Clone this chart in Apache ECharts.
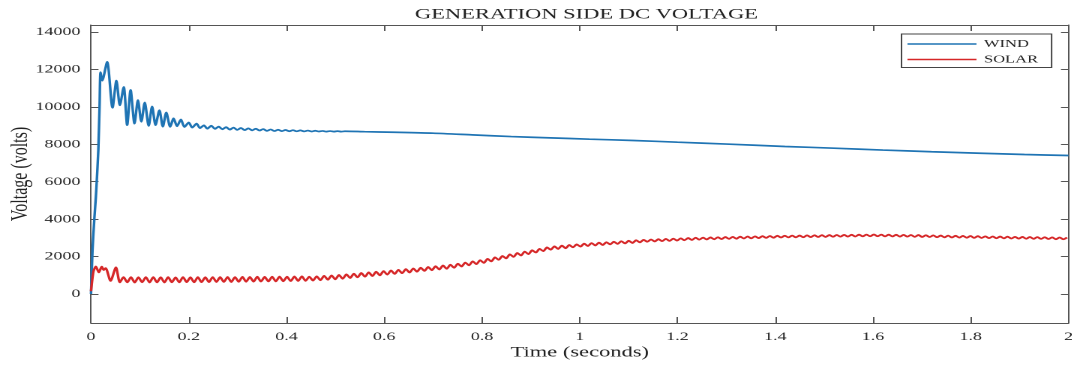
<!DOCTYPE html>
<html>
<head>
<meta charset="utf-8">
<title>Generation side DC voltage</title>
<script src="https://cdn.jsdelivr.net/npm/echarts@6/dist/echarts.min.js"></script>
<style>
  html, body { margin: 0; padding: 0; background: #fff; overflow: hidden; }
  /* the source figure is a MATLAB plot stretched 1.5x horizontally */
  #chart { width: 714.67px; height: 365px; transform: scaleX(1.5); transform-origin: 0 0; }
</style>
</head>
<body>
<div id="chart"></div>
<script>
// y ticks / labels
const yTicks = [0, 2000, 4000, 6000, 8000, 10000, 12000, 14000];

// wind: start-up transient
const windStartT = [0, 0.003, 0.007, 0.010, 0.0115, 0.015, 0.0175, 0.0195, 0.023, 0.033,
  0.044, 0.052, 0.059, 0.067, 0.074, 0.081, 0.089, 0.096, 0.103, 0.110,
  0.118, 0.125, 0.132, 0.140, 0.147, 0.154, 0.162, 0.169, 0.176, 0.184,
  0.191, 0.200, 0.207, 0.216, 0.223, 0.231, 0.238, 0.246];
const windStartV = [0, 2300, 4100, 5200, 5900, 7700, 10000, 11850, 11400, 12400,
  9950, 11400, 10080, 11060, 9020, 10900, 9100, 10360, 9200, 10230,
  8980, 10020, 9020, 9820, 8940, 9700, 8930, 9380, 8960, 9320,
  8920, 9160, 8890, 9100, 8860, 9010, 8830, 8990];

// wind: small ripple, one value per half period
const rippleStep = 0.0076;
const windRippleStart = 0.2536;
const windRipple = [8820, 8940, 8800, 8915, 8780, 8890, 8765, 8870, 8750, 8850,
  8740, 8830, 8730, 8810, 8715, 8790, 8705, 8775, 8700, 8760,
  8695, 8750, 8690, 8740, 8685, 8730, 8680, 8720, 8680, 8710,
  8675, 8705, 8675, 8700, 8675, 8695];

// wind: slow decline
const windTailT = [0.56, 0.62, 0.70, 0.78, 0.86, 0.94, 1.02, 1.11, 1.20, 1.30,
  1.42, 1.52, 1.62, 1.72, 1.82, 1.91, 2.00];
const windTailV = [8670, 8640, 8590, 8500, 8410, 8340, 8270, 8200, 8110, 8010,
  7880, 7790, 7690, 7600, 7520, 7450, 7400];

// solar: start-up transient
const solarStartT = [0, 0.005, 0.010, 0.016, 0.022, 0.026, 0.030, 0.040, 0.051, 0.059];
const solarStartV = [150, 1200, 1470, 1150, 1460, 1280, 1380, 700, 1420, 620];

// solar: ripple riding on the slow rise, one value per half period
const solarRippleStart = 0.0666;
const solarRipple = [
  900, 620, 905, 610, 895, 625, 905, 615, 900, 620,
  895, 615, 900, 625, 890, 620, 905, 630, 895, 625,
  900, 630, 895, 635, 905, 640, 900, 645, 910, 640,
  905, 650, 915, 655, 910, 660, 920, 665, 915, 670,
  925, 675, 930, 680, 920, 690, 935, 695, 940, 700,
  925, 715, 945, 735, 970, 760, 990, 780, 1015, 815,
  1050, 855, 1080, 890, 1120, 925, 1155, 960, 1190, 995,
  1220, 1035, 1255, 1070, 1290, 1110, 1330, 1145, 1365, 1190,
  1400, 1230, 1440, 1270, 1480, 1310, 1520, 1345, 1560, 1400,
  1615, 1470, 1680, 1530, 1745, 1595, 1805, 1660, 1880, 1740,
  1955, 1825, 2030, 1900, 2115, 1980, 2190, 2055, 2265, 2130,
  2335, 2215, 2410, 2290, 2490, 2365, 2545, 2405, 2585, 2445,
  2615, 2495, 2650, 2530, 2690, 2565, 2720, 2590, 2745, 2615,
  2765, 2650, 2790, 2675, 2820, 2700, 2845, 2725, 2870, 2755,
  2895, 2790, 2915, 2805, 2930, 2820, 2945, 2835, 2960, 2850,
  2975, 2870, 2990, 2885, 3005, 2900, 3015, 2910, 3025, 2920,
  3035, 2930, 3045, 2940, 3055, 2950, 3065, 2960, 3075, 2970,
  3080, 2985, 3090, 2995, 3100, 3005, 3110, 3015, 3115, 3020,
  3120, 3025, 3125, 3030, 3135, 3035, 3140, 3040, 3145, 3045,
  3150, 3055, 3155, 3060, 3160, 3065, 3165, 3070, 3170, 3075,
  3175, 3080, 3180, 3080, 3175, 3075, 3170, 3070, 3165, 3065,
  3160, 3060, 3155, 3050, 3150, 3045, 3140, 3040, 3135, 3030,
  3125, 3025, 3120, 3015, 3110, 3010, 3105, 3000, 3100, 2995,
  3090, 2990, 3080, 2980, 3075, 2975, 3070, 2970, 3065, 2960,
  3055, 2955, 3050, 2950, 3045, 2945, 3040, 2940, 3035, 2935,
  3025, 2925, 3020, 2920, 3015
];

const windColor = '#1f74b4';
const solarColor = '#d62728';
const serif = 'Liberation Serif';
const axisColor = '#555';

function pairs(ts, vs) {
  return ts.map((t, i) => [t, vs[i]]);
}
function gridPairs(start, vs) {
  return vs.map((v, i) => [+(start + i * rippleStep).toFixed(4), v]);
}

const windData = pairs(windStartT, windStartV)
  .concat(gridPairs(windRippleStart, windRipple))
  .concat(pairs(windTailT, windTailV));
const solarData = pairs(solarStartT, solarStartV)
  .concat(gridPairs(solarRippleStart, solarRipple));

const chart = echarts.init(document.getElementById('chart'), null, { devicePixelRatio: 2 });

const xBase = {
  type: 'value',
  min: 0,
  max: 2,
  interval: 0.2,
  axisLine: { show: true, onZero: false, lineStyle: { color: axisColor } },
  axisTick: { show: true, inside: true, length: 6, lineStyle: { color: axisColor } },
  splitLine: { show: false },
};
const yBase = {
  type: 'value',
  min: -1550,
  max: 14370,
  axisLine: { show: true, onZero: false, lineStyle: { color: axisColor } },
  axisTick: { show: true, inside: true, length: 5, customValues: yTicks, lineStyle: { color: axisColor } },
  splitLine: { show: false },
};

chart.setOption({
  animation: false,
  backgroundColor: '#fff',
  title: {
    text: 'GENERATION SIDE DC VOLTAGE',
    left: 386,
    top: 2,
    textAlign: 'center',
    textStyle: { fontFamily: serif, fontSize: 15, fontWeight: 'normal', color: '#222' },
  },
  legend: {
    orient: 'vertical',
    left: 601,
    top: 34,
    icon: 'rect',
    itemWidth: 46,
    itemHeight: 1.6,
    itemGap: 1.5,
    padding: [3, 9, 1, 4],
    borderColor: '#444',
    borderWidth: 1,
    backgroundColor: '#fff',
    textStyle: { fontFamily: serif, fontSize: 11, lineHeight: 14, color: '#222' },
    data: ['WIND', 'SOLAR'],
  },
  grid: { left: 60.67, right: 2.67, top: 25, bottom: 42, containLabel: false, outerBoundsMode: 'none' },
  xAxis: [
    Object.assign({}, xBase, {
      position: 'bottom',
      name: 'Time (seconds)',
      nameLocation: 'middle',
      nameGap: 22,
      nameMoveOverlap: false,
      nameTextStyle: { fontFamily: serif, fontSize: 15, color: '#222' },
      axisLabel: { margin: 8, fontFamily: serif, fontSize: 12, color: '#262626', formatter: v => String(v) },
    }),
    Object.assign({}, xBase, { position: 'top', axisLabel: { show: false } }),
  ],
  yAxis: [
    Object.assign({}, yBase, {
      position: 'left',
      name: 'Voltage (volts)',
      nameLocation: 'middle',
      nameGap: 39,
      nameMoveOverlap: false,
      nameTextStyle: { fontFamily: serif, fontSize: 16, color: '#222' },
      axisLabel: { customValues: yTicks, margin: 7, fontFamily: serif, fontSize: 12, color: '#262626', formatter: v => String(v) },
    }),
    Object.assign({}, yBase, { position: 'right', axisLabel: { show: false } }),
  ],
  series: [
    {
      name: 'WIND',
      type: 'line',
      data: windData,
      symbol: 'none',
      smooth: 0.25,
      lineStyle: { width: 1.7, color: windColor },
      itemStyle: { color: windColor },
    },
    {
      name: 'SOLAR',
      type: 'line',
      data: solarData,
      symbol: 'none',
      smooth: 0.25,
      lineStyle: { width: 1.7, color: solarColor },
      itemStyle: { color: solarColor },
    },
  ],
});
</script>
</body>
</html>
